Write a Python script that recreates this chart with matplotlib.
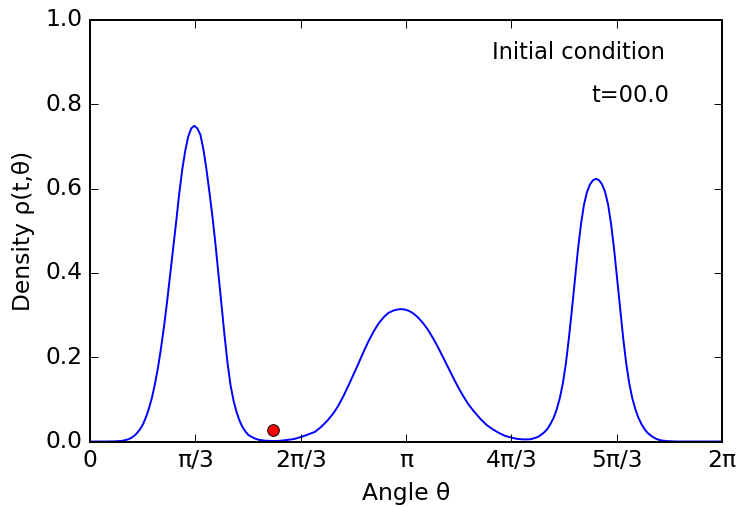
import numpy as np
import matplotlib
matplotlib.use("Agg")
import matplotlib.pyplot as plt

plt.style.use('classic')

# Density curve (angle in radians, density)
theta = [0.000, 0.150, 0.250, 0.317, 0.347, 0.377, 0.407, 0.437, 0.467, 0.497,
         0.527, 0.557, 0.587, 0.617, 0.647, 0.677, 0.707, 0.737, 0.767, 0.797,
         0.827, 0.857, 0.887, 0.917, 0.947, 0.977, 1.007, 1.037, 1.067, 1.097,
         1.127, 1.157, 1.187, 1.217, 1.247, 1.277, 1.307, 1.337, 1.367, 1.397,
         1.427, 1.457, 1.487, 1.517, 1.547, 1.577, 1.607, 1.640, 1.680, 1.740,
         1.839, 1.900, 1.972, 2.030, 2.088, 2.150, 2.237, 2.300, 2.369, 2.420,
         2.469, 2.520, 2.568, 2.620, 2.667, 2.720, 2.767, 2.820, 2.866, 2.920,
         2.966, 3.020, 3.065, 3.100, 3.132, 3.170, 3.214, 3.260, 3.314, 3.360,
         3.413, 3.460, 3.513, 3.560, 3.612, 3.660, 3.711, 3.760, 3.811, 3.880,
         3.944, 4.010, 4.076, 4.130, 4.193, 4.250, 4.308, 4.360, 4.391, 4.431,
         4.461, 4.491, 4.521, 4.551, 4.581, 4.611, 4.641, 4.671, 4.701, 4.731,
         4.761, 4.791, 4.821, 4.851, 4.881, 4.911, 4.941, 4.971, 5.001, 5.031,
         5.061, 5.091, 5.121, 5.151, 5.181, 5.211, 5.241, 5.271, 5.301, 5.331,
         5.361, 5.391, 5.421, 5.451, 5.481, 5.511, 5.541, 5.571, 5.601, 5.631,
         5.671, 5.731, 5.831, 6.283]
density = [0.000, 0.000, 0.0004, 0.0015, 0.003, 0.005, 0.008, 0.013, 0.020, 0.029,
           0.041, 0.058, 0.079, 0.105, 0.138, 0.177, 0.223, 0.275, 0.333, 0.395,
           0.459, 0.522, 0.588, 0.645, 0.690, 0.724, 0.743, 0.749, 0.743, 0.728,
           0.694, 0.647, 0.592, 0.534, 0.469, 0.398, 0.325, 0.253, 0.187, 0.134,
           0.097, 0.070, 0.049, 0.034, 0.023, 0.015, 0.011, 0.007, 0.004, 0.002,
           0.001, 0.002, 0.004, 0.006, 0.010, 0.015, 0.023, 0.035, 0.052, 0.067,
           0.085, 0.108, 0.132, 0.159, 0.184, 0.213, 0.237, 0.261, 0.279, 0.295,
           0.305, 0.311, 0.3135, 0.314, 0.313, 0.310, 0.304, 0.2945, 0.280, 0.265,
           0.244, 0.2235, 0.1985, 0.176, 0.151, 0.129, 0.1075, 0.089, 0.073, 0.054,
           0.039, 0.028, 0.019, 0.013, 0.009, 0.006, 0.005, 0.005, 0.006, 0.009,
           0.012, 0.017, 0.023, 0.031, 0.043, 0.057, 0.077, 0.103, 0.138, 0.185,
           0.245, 0.313, 0.385, 0.455, 0.515, 0.562, 0.592, 0.610, 0.620, 0.623,
           0.620, 0.610, 0.592, 0.562, 0.515, 0.455, 0.385, 0.313, 0.245, 0.185,
           0.138, 0.103, 0.077, 0.057, 0.042, 0.030, 0.021, 0.015, 0.010, 0.006,
           0.003, 0.001, 0.000, 0.000]

# Particle marker
dot_theta = [1.816]
dot_density = [0.027]

xtick_labels = ['0', 'π/3', '2π/3', 'π', '4π/3', '5π/3', '2π']
ytick_values = [0.0, 0.2, 0.4, 0.6, 0.8, 1.0]

title_text = 'Initial condition'
time_text = 't=00.0'

fig = plt.figure(figsize=(739/140, 507/140), dpi=140, facecolor='white')
ax = fig.add_axes([90/739, 65.5/507, 632/739, 421.5/507])

ax.plot(theta, density, color='b', lw=1.0)
ax.plot(dot_theta, dot_density, 'o', color='r', mec='k', mew=0.5, ms=6)

ax.set_xlim(0, 2*np.pi)
ax.set_ylim(0, 1.0)
ax.set_xticks([k*np.pi/3 for k in range(7)])
ax.set_xticklabels(xtick_labels)
ax.set_yticks(ytick_values)
ax.set_xlabel('Angle θ')
ax.set_ylabel('Density ρ(t,θ)')

ax.text(5.717, 0.924, title_text, ha='right', va='center', fontsize=11.6)
ax.text(5.756, 0.820, time_text, ha='right', va='center', fontsize=11.6)

fig.savefig('out.png', dpi=140, facecolor='white')
